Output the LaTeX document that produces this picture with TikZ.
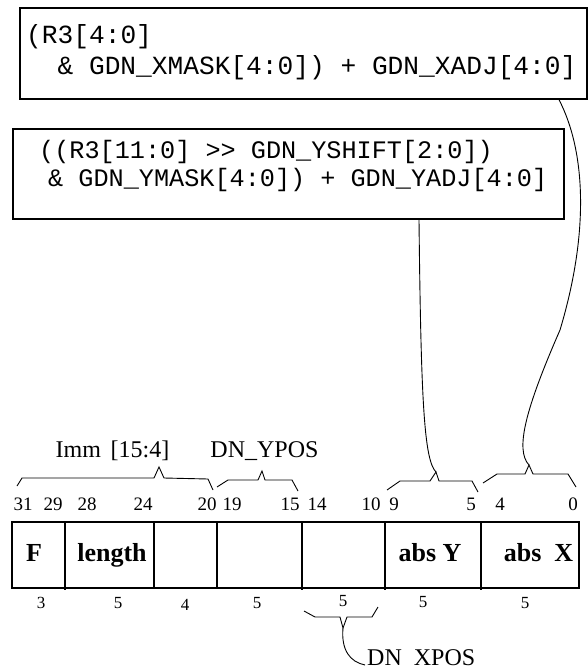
\documentclass[tikz,border=0pt]{standalone}
\usepackage{fontspec}
\setmainfont{Liberation Serif}
\setmonofont{Liberation Mono}
\usetikzlibrary{positioning}

\begin{document}
\begin{tikzpicture}[
		x=1pt,y=-1pt,
		box/.style     ={draw,line width=2pt,inner sep=0pt},
		expr/.style    ={align=left,inner sep=0pt},
		field/.style   ={font=\bfseries\fontsize{26}{30}\selectfont,inner sep=0pt},
		bitno/.style   ={font=\fontsize{19}{22}\selectfont,inner sep=0pt},
		bitcount/.style={font=\fontsize{17}{20}\selectfont,inner sep=0pt},
		tag/.style     ={font=\fontsize{24}{28}\selectfont,inner sep=0pt},
		brace/.style   ={draw,line width=0.9pt},
		link/.style    ={draw,line width=0.9pt}
		]
		\useasboundingbox (0,0) rectangle (588,671);

		% ---- address expressions (base anchor = last line) ----
		\node[box,minimum width=567pt,minimum height=90.4pt,anchor=north west] (xbox) at (19,7.3) {};
		\node[expr,font=\ttfamily\fontsize{26.2}{31.7}\selectfont,anchor=base west] (xtext) at (26,75)
			{(R3[4:0]\\\hspace*{31.4pt}\& GDN\_XMASK[4:0]) + GDN\_XADJ[4:0]};

		\node[box,minimum width=550.7pt,minimum height=90.3pt,anchor=north west] (ybox) at (12.3,127.7) {};
		\node[expr,font=\ttfamily\fontsize{25.2}{28}\selectfont,anchor=base west] (ytext) at (24,186)
			{\hspace*{15pt}((R3[11:0] >> GDN\_YSHIFT[2:0])\\\hspace*{24pt}\& GDN\_YMASK[4:0]) + GDN\_YADJ[4:0]};

		% ---- instruction word ----
		\node[box,minimum width=567pt,minimum height=66pt,anchor=north west] (reg) at (11,521) {};
		\foreach \x/\y in {65/589.5,154/587,217/587,302/589.5,385/589.5,481/589.5}
			\draw[line width=2pt] (\x,521) -- (\x,\y);

		\node[field,anchor=base] (fF)    at (34,561)    {F};
		\node[field,anchor=base] (flen)  at (112,561)   {length};
		\node[field,anchor=base] (fabsy) at (430,561)   {abs Y};
		\node[field,anchor=base] (fabsx) at (538.5,561) {abs\ \ X};

		% ---- bit positions ----
		\foreach \n/\x in {31/23,29/53,28/87,24/143,20/207,19/232,15/290,14/317,10/371,9/394,5/471,4/500,0/573}
			\node[bitno] (bit\n) at (\x,504) {\n};

		% ---- field widths ----
		\node[bitcount] (wF)    at (41,603)  {3};
		\node[bitcount] (wlen)  at (118,603) {5};
		\node[bitcount] (wimm)  at (185,605) {4};
		\node[bitcount] (wypos) at (257,603) {5};
		\node[bitcount] (wxpos) at (343,601) {5};
		\node[bitcount] (wabsy) at (423,602) {5};
		\node[bitcount] (wabsx) at (525,603) {5};

		% ---- braces ----
		\draw[brace] (17,486) -- (22,478) -- (154,478) -- (159,467) coordinate (immtip)
			-- (164,478) -- (208,479) -- (213,490);
		\draw[brace] (217,487) -- (228,480) -- (258,480) -- (262,471) coordinate (ypostip)
			-- (265,480) -- (292,480) -- (298,491);
		\draw[brace] (387,490) -- (400,481) -- (430,481) -- (436,472) coordinate (absytip)
			-- (439,481) -- (472,481) -- (478,492);
		\draw[brace] (483,483) -- (497,474) -- (525,474) -- (529,465) coordinate (absxtip)
			-- (533,474) -- (568,474) -- (576,487);
		\draw[brace] (304,611) -- (315,617) -- (340,617) -- (343,628) coordinate (xpostip)
			-- (347,617) -- (372,617) -- (378,607);

		% ---- field names ----
		\node[tag,anchor=base] (imm)  at (112.5,457) {Imm\hspace{0.4em}[15:4]};
		\node[tag,anchor=base] (ypos) at (264.5,457) {DN\_YPOS};
		\node[tag,anchor=base west] (xpos) at (367,665) {DN\ \ XPOS};

		% ---- expressions -> fields ----
		\draw[link] ([xshift=-29pt]xbox.south east) .. controls (585,150) and (590,230) .. (560,330)
			.. controls (525,410) and (515,450) .. (absxtip);
		\draw[link] ([xshift=406.7pt]ybox.south west) .. controls (421,400) and (424,460) .. (absytip);
		\draw[link] (xpostip) .. controls (341,650) and (350,662) .. ([xshift=-2pt]xpos.base west);

	\end{tikzpicture}
\end{document}
